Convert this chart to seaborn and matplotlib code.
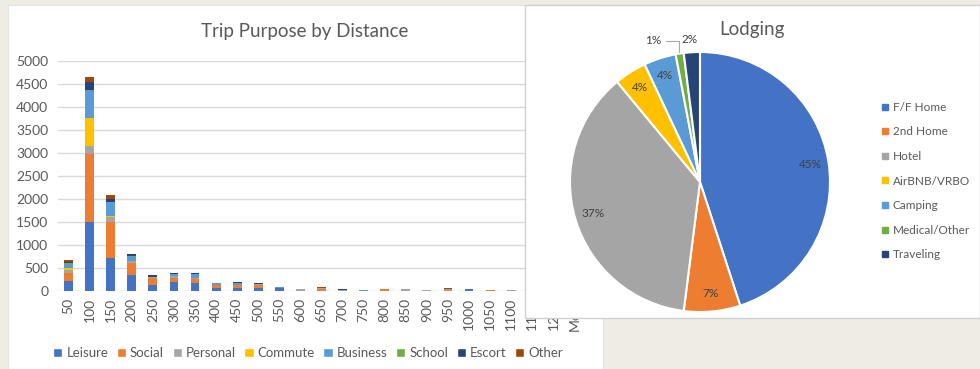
import numpy as np
import pandas as pd
import matplotlib
matplotlib.use("Agg")
import matplotlib.pyplot as plt
from matplotlib.patches import Rectangle
import seaborn as sns

# ---- data -------------------------------------------------------------
distances = ["50", "100", "150", "200", "250", "300", "350", "400", "450",
             "500", "550", "600", "650", "700", "750", "800", "850", "900",
             "950", "1000", "1050", "1100", "1150", "1200", "More"]

leisure  = [220, 1490, 720, 340, 130, 190, 170, 60, 70, 60, 60, 0, 0, 0, 0, 0, 0, 0, 10, 45, 0, 0, 0, 0, 0]
social   = [170, 1490, 780, 270, 150, 100, 100, 70, 60, 70, 15, 0, 40, 0, 0, 35, 0, 0, 10, 0, 15, 0, 0, 0, 0]
personal = [70, 180, 110, 40, 20, 30, 20, 10, 10, 20, 0, 35, 15, 25, 0, 0, 35, 30, 20, 0, 0, 20, 5, 5, 10]
commute  = [30, 610, 30, 10, 0, 0, 0, 0, 0, 0, 0, 0, 0, 0, 0, 0, 0, 0, 0, 0, 0, 0, 0, 0, 0]
business = [100, 600, 290, 100, 10, 50, 90, 30, 40, 10, 15, 0, 0, 0, 30, 0, 0, 0, 0, 0, 0, 0, 0, 0, 0]
school   = [10, 0, 10, 10, 0, 0, 0, 0, 0, 0, 0, 0, 0, 0, 0, 0, 0, 0, 0, 0, 0, 0, 0, 0, 0]
escort   = [40, 170, 70, 25, 40, 20, 10, 10, 10, 10, 0, 10, 0, 20, 0, 0, 10, 0, 10, 0, 0, 0, 0, 0, 0]
other    = [40, 120, 75, 0, 0, 0, 0, 0, 0, 0, 0, 0, 40, 0, 0, 0, 0, 0, 10, 0, 10, 0, 0, 0, 0]

purposes = ["Leisure", "Social", "Personal", "Commute", "Business", "School", "Escort", "Other"]
purpose_values = [leisure, social, personal, commute, business, school, escort, other]
purpose_colors = ["#4472C4", "#ED7D31", "#A5A5A5", "#FFC000", "#5B9BD5", "#70AD47", "#264478", "#9E480E"]

lodging = ["F/F Home", "2nd Home", "Hotel", "AirBNB/VRBO", "Camping", "Medical/Other", "Traveling"]
lodging_share = [45, 7, 37, 4, 4, 1, 2]
lodging_colors = ["#4472C4", "#ED7D31", "#A5A5A5", "#FFC000", "#5B9BD5", "#70AD47", "#264478"]

# ---- figure -----------------------------------------------------------
sns.set_theme(style="white")
plt.rcParams["font.family"] = ["Lato", "DejaVu Sans"]
TXT = "#595959"

W, H = 980, 369
fig = plt.figure(figsize=(W / 100, H / 100), dpi=100, facecolor="#EEECE4")


def box(x0, y0, x1, y1):
    """pixel box (top-left origin) -> figure-fraction rect"""
    return [x0 / W, 1 - y1 / H, (x1 - x0) / W, (y1 - y0) / H]


# white chart panels
fig.patches.append(Rectangle((8 / W, 0), (603 - 8) / W, 1 - 5 / H,
                             transform=fig.transFigure, facecolor="white",
                             edgecolor="#E3E3E3", lw=0.8, zorder=-1))
fig.patches.append(Rectangle((525 / W, 1 - 318 / H), (980 - 525) / W, (318 - 5) / H,
                             transform=fig.transFigure, facecolor="white",
                             edgecolor="#D0D0D0", lw=1.0, zorder=1))

# ---- stacked bars -----------------------------------------------------
ax = fig.add_axes(box(58, 61, 585, 291))
ax.set_zorder(0)
bottom = np.zeros(len(distances))
for name, vals, col in zip(purposes, purpose_values, purpose_colors):
    sns.barplot(x=distances, y=vals, bottom=bottom, color=col, width=0.42,
                errorbar=None, ax=ax, label=name, saturation=1, legend=False,
                linewidth=0, edgecolor="none")
    bottom = bottom + np.array(vals)

ax.set_ylim(0, 5000)
ax.set_xlim(-0.5, len(distances) - 0.5)
ax.set_yticks(np.arange(0, 5001, 500))
ax.grid(axis="y", color="#D9D9D9", lw=1)
ax.set_axisbelow(True)
for s in ax.spines.values():
    s.set_visible(False)
ax.tick_params(axis="y", length=0, labelsize=10, labelcolor=TXT, pad=7)
ax.tick_params(axis="x", length=0, labelsize=10, labelcolor=TXT, pad=5)
plt.setp(ax.get_xticklabels(), rotation=90)
ax.set_xlabel("")
ax.set_ylabel("")
fig.text(305 / W, 1 - 31 / H, "Trip Purpose by Distance", ha="center", va="center",
         fontsize=13.5, color=TXT)

handles = [Rectangle((0, 0), 1, 1, facecolor=c) for c in purpose_colors]
fig.legend(handles, purposes, loc="center", bbox_to_anchor=(308 / W, 1 - 353 / H),
           ncol=8, frameon=False, fontsize=9.5, labelcolor=TXT, handlelength=0.7,
           handleheight=0.7, handletextpad=0.3, columnspacing=0.65)

# ---- pie ----------------------------------------------------------------
pax = fig.add_axes(box(570, 52, 830, 312))
pax.set_zorder(2)
pax.patch.set_alpha(0)
wedges, _, autotexts = pax.pie(lodging_share, colors=lodging_colors, startangle=90,
                               counterclock=False, autopct="%d%%", pctdistance=0.86,
                               wedgeprops=dict(edgecolor="white", linewidth=1.5),
                               textprops=dict(fontsize=8.5, color="#404040"))
pax.set_xlim(-1, 1)
pax.set_ylim(-1, 1)
pax.set_aspect("equal")

# small slices get their labels above the rim
for i in (5, 6):
    w = wedges[i]
    ang = np.deg2rad((w.theta1 + w.theta2) / 2)
    autotexts[i].set_visible(False)
    x, y = np.cos(ang), np.sin(ang)
    if i == 5:
        pax.annotate(f"{lodging_share[i]}%", xy=(x * 1.01, y * 1.01), xytext=(x - 0.14, y + 0.1),
                     ha="right", va="center", fontsize=8.5, color="#404040",
                     arrowprops=dict(arrowstyle="-", color="#A6A6A6", lw=0.8,
                                     connectionstyle="angle,angleA=0,angleB=90,rad=0",
                                     shrinkA=1, shrinkB=0))
    else:
        pax.text(x - 0.02, y + 0.1, f"{lodging_share[i]}%", ha="center", va="center",
                 fontsize=8.5, color="#404040")

fig.text(752 / W, 1 - 30 / H, "Lodging", ha="center", va="center", fontsize=13.5, color=TXT)

lh = [plt.Line2D([], [], marker="s", ls="", markersize=4, color=c) for c in lodging_colors]
fig.legend(lh, lodging, loc="center left", bbox_to_anchor=(868 / W, 1 - 181 / H),
           frameon=False, fontsize=8.5, labelcolor=TXT, handletextpad=0.2,
           labelspacing=1.15, handlelength=1.0)

fig.savefig("out.png", dpi=100, facecolor=fig.get_facecolor())
